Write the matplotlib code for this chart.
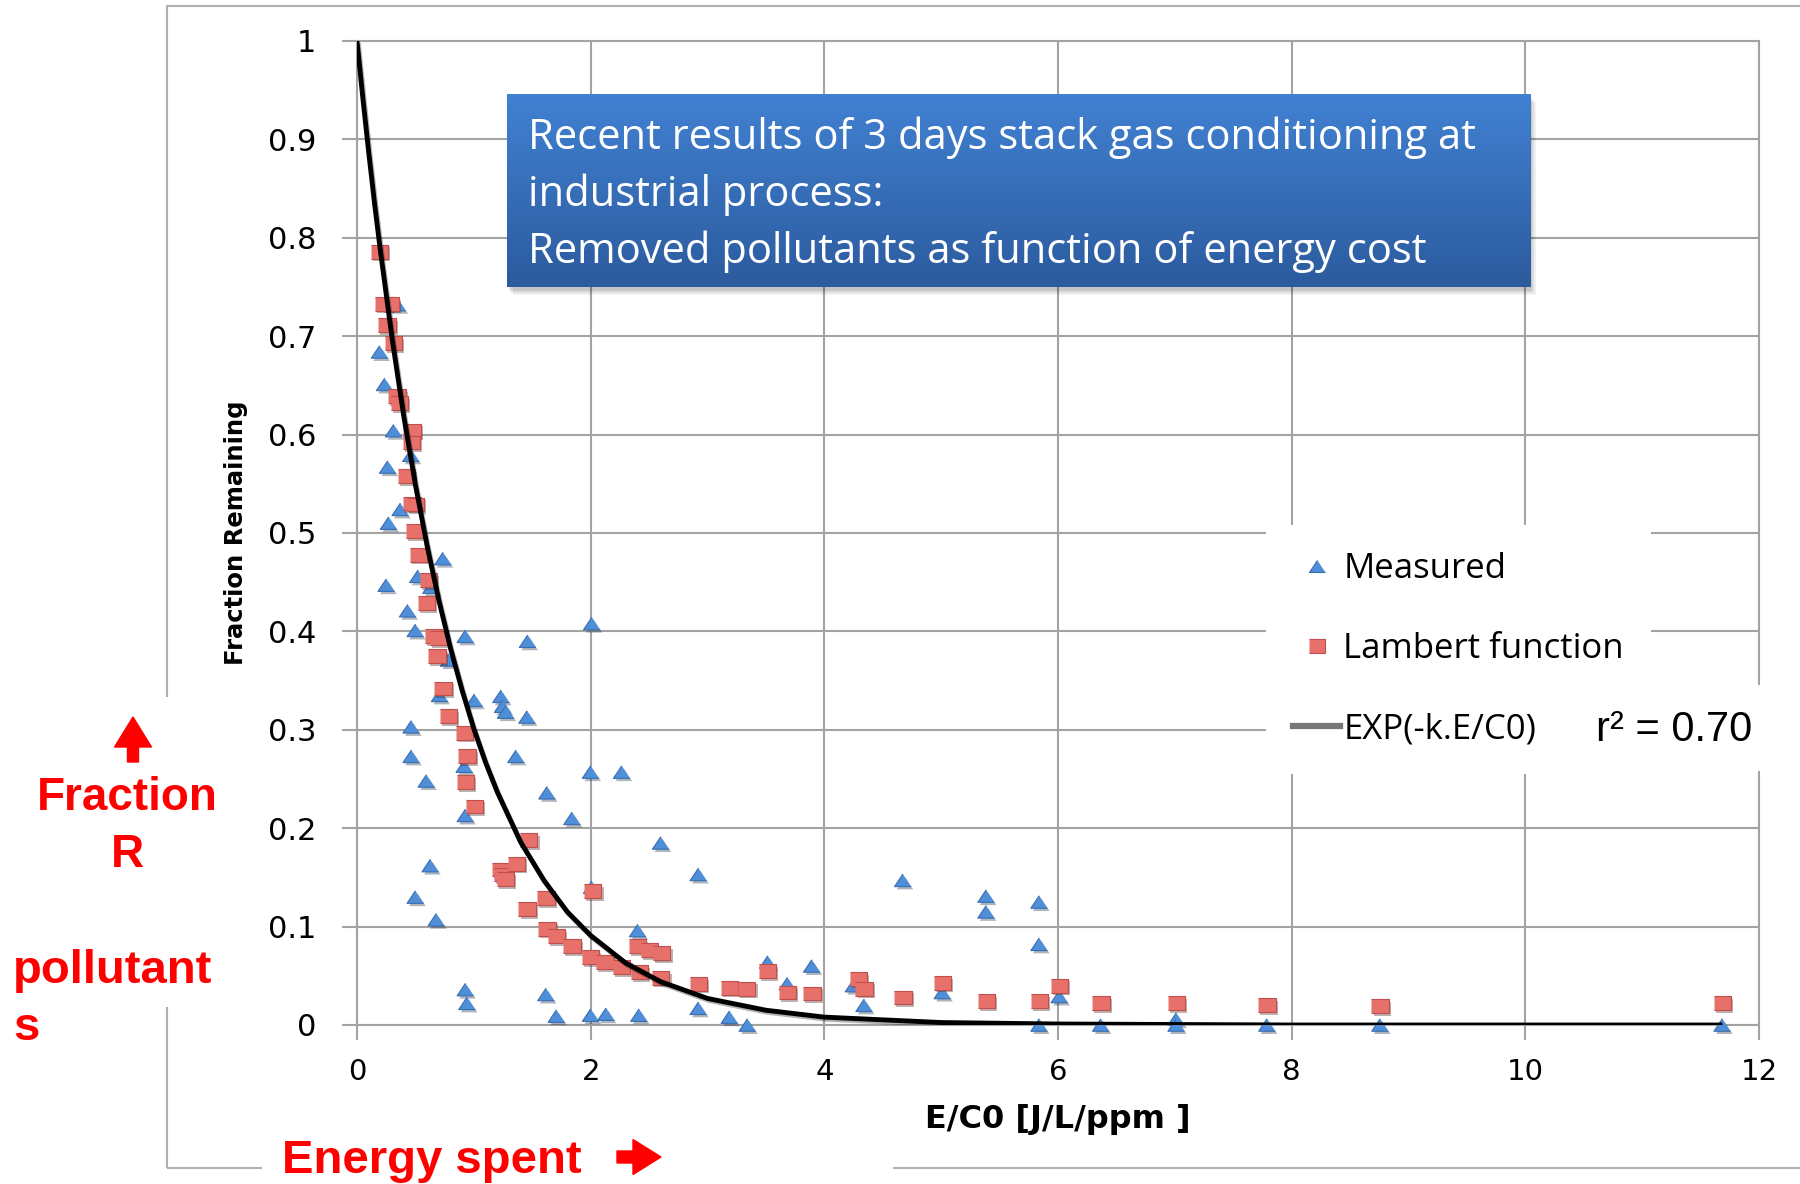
import numpy as np
import matplotlib
matplotlib.use("Agg")
import matplotlib.pyplot as plt
import matplotlib.patheffects as pe
from matplotlib.lines import Line2D
from matplotlib.patches import Rectangle, FancyArrow
from matplotlib.transforms import IdentityTransform

# measured points (E/C0, fraction remaining)
meas_E = [0.348, 0.194, 0.237, 0.314, 0.462, 0.263, 0.371, 0.271, 0.736, 0.522,
          0.251, 0.634, 0.434, 0.500, 0.928, 1.461, 2.010, 0.785, 0.708, 1.005,
          1.233, 1.247, 1.273, 1.456, 0.465, 0.465, 1.361, 0.919, 0.594, 1.627,
          2.000, 0.928, 1.841, 0.628, 0.500, 0.679, 0.928, 0.942, 1.618, 1.707,
          2.000, 2.266, 2.600, 2.922, 4.672, 2.403, 2.609, 3.516, 3.893, 3.684,
          4.250, 4.341, 2.132, 2.414, 2.922, 3.188, 3.342, 2.009, 5.385, 5.385,
          5.839, 5.839, 5.011, 6.013, 5.839, 6.367, 7.012, 7.012, 7.789, 8.757,
          11.686]
meas_R = [0.732, 0.684, 0.651, 0.604, 0.579, 0.567, 0.524, 0.510, 0.474, 0.456,
          0.447, 0.445, 0.421, 0.401, 0.395, 0.390, 0.408, 0.371, 0.335, 0.330,
          0.334, 0.324, 0.318, 0.313, 0.303, 0.273, 0.273, 0.263, 0.248, 0.236,
          0.257, 0.213, 0.210, 0.162, 0.130, 0.107, 0.036, 0.022, 0.031, 0.009,
          0.010, 0.257, 0.185, 0.153, 0.147, 0.096, 0.074, 0.064, 0.060, 0.042,
          0.040, 0.020, 0.011, 0.010, 0.017, 0.008, 0.000, 0.140, 0.131, 0.115,
          0.125, 0.082, 0.033, 0.029, 0.000, 0.000, 0.006, 0.000, 0.000, 0.000,
          0.000]

# lambert function points
lamb_E = [0.194, 0.230, 0.285, 0.257, 0.314, 0.342, 0.365, 0.471, 0.465, 0.422,
          0.471, 0.500, 0.491, 0.528, 0.614, 0.594, 0.656, 0.699, 0.685, 0.736,
          0.785, 0.919, 0.942, 0.928, 1.005, 1.470, 1.227, 1.250, 1.273, 1.364,
          1.618, 1.456, 1.627, 1.707, 1.841, 1.998, 2.018, 2.123, 2.266, 2.417,
          2.400, 2.503, 2.609, 2.600, 2.922, 3.188, 3.336, 3.513, 3.684, 3.893,
          4.292, 4.341, 4.672, 5.011, 5.390, 5.839, 6.013, 6.367, 7.012, 7.789,
          8.757, 11.686]
lamb_R = [0.786, 0.733, 0.733, 0.711, 0.693, 0.639, 0.632, 0.604, 0.592, 0.558,
          0.530, 0.529, 0.502, 0.478, 0.452, 0.429, 0.395, 0.393, 0.375, 0.342,
          0.314, 0.297, 0.273, 0.247, 0.222, 0.188, 0.158, 0.153, 0.148, 0.164,
          0.129, 0.118, 0.098, 0.090, 0.080, 0.069, 0.136, 0.064, 0.059, 0.054,
          0.080, 0.076, 0.073, 0.048, 0.042, 0.038, 0.037, 0.055, 0.033, 0.032,
          0.047, 0.037, 0.028, 0.043, 0.024, 0.024, 0.040, 0.022, 0.022, 0.020,
          0.019, 0.022]

# exp fit curve
fit_E = [0, 0.05, 0.1, 0.15, 0.2, 0.3, 0.4, 0.5, 0.6, 0.7, 0.8, 0.9, 1.0, 1.1,
         1.2, 1.4, 1.6, 1.8, 2.0, 2.3, 2.6, 3.0, 3.5, 4.0, 5.0, 6.0, 8.0, 11.686]
fit_R = [1.0, 0.942, 0.887, 0.835, 0.787, 0.698, 0.619, 0.549, 0.487, 0.432,
         0.383, 0.340, 0.301, 0.267, 0.237, 0.186, 0.147, 0.115, 0.091, 0.063,
         0.044, 0.027, 0.015, 0.008, 0.0025, 0.001, 0.0, 0.0]

x_ticks = [0, 2, 4, 6, 8, 10, 12]
y_ticks = [0, 0.1, 0.2, 0.3, 0.4, 0.5, 0.6, 0.7, 0.8, 0.9, 1.0]
y_labels = ["0", "0.1", "0.2", "0.3", "0.4", "0.5", "0.6", "0.7", "0.8", "0.9", "1"]

title_lines = ["Recent results of 3 days stack gas conditioning at",
               "industrial process:",
               "Removed pollutants as function of energy cost"]

W, H = 1800, 1184
def fx(x):
    return x / W
def fy(y):
    return 1 - y / H

fig = plt.figure(figsize=(18, 11.84), dpi=100)
fig.patch.set_facecolor("white")

ax = fig.add_axes([fx(357), fy(1025), (1759 - 357) / W, (1025 - 41) / H])
grid_c = "#a3a3a3"
ax.set_xlim(0, 12)
ax.set_ylim(0, 1)
ax.set_xticks(x_ticks)
ax.set_yticks(y_ticks)
ax.set_yticklabels(y_labels)
ax.grid(True, color=grid_c, lw=1.5)
ax.set_axisbelow(True)
for s in ax.spines.values():
    s.set_color(grid_c)
    s.set_linewidth(1.5)
ax.tick_params(axis="both", direction="out", length=10.5, width=1.5,
               color=grid_c, labelsize=21)
ax.tick_params(axis="y", pad=19, labelsize=22)
ax.tick_params(axis="x", pad=13)
ax.set_xlabel("E/C0 [J/L/ppm ]", fontsize=23, fontweight="bold", labelpad=13)
ax.set_ylabel("Fraction Remaining", fontsize=17.5, fontweight="bold", labelpad=14)

tri = [(0, 0.75), (-1, -0.75), (1, -0.75)]
sq = [(-1, -0.8), (1, -0.8), (1, 0.8), (-1, 0.8)]
shadow = [pe.SimplePatchShadow(offset=(1.5, -2), alpha=0.35), pe.Normal()]

ax.plot(meas_E, meas_R, ls="none", marker=tri, ms=12, mfc="#4f8fda",
        mec="#3a6db0", mew=0.8, clip_on=False, zorder=3, path_effects=shadow)
ax.plot(lamb_E, lamb_R, ls="none", marker=sq, ms=12.5, mfc="#e8706b",
        mec="#c0504d", mew=0.8, clip_on=False, zorder=4, path_effects=shadow)
ax.plot(fit_E, fit_R, color="black", lw=3.5, zorder=5, solid_capstyle="butt",
        path_effects=[pe.SimpleLineShadow(offset=(1, -1.5), alpha=0.3), pe.Normal()])

handles = [
    Line2D([], [], ls="none", marker=tri, ms=11.5, mfc="#4f8fda", mec="#3a6db0", mew=0.8),
    Line2D([], [], ls="none", marker=sq, ms=12, mfc="#e8706b", mec="#c0504d", mew=0.8),
    Line2D([], [], color="#777777", lw=4.5),
]
leg = ax.legend(handles, ["Measured", "Lambert function", "EXP(-k.E/C0)"],
                loc="upper left", bbox_to_anchor=(fx(1266), fy(525)),
                bbox_transform=fig.transFigure, borderaxespad=0,
                prop={"family": "Open Sans", "size": 25},
                frameon=True, fancybox=False, framealpha=1,
                facecolor="white", edgecolor="none",
                handlelength=1.35, handletextpad=0.1, labelspacing=1.33,
                borderpad=0.78)
leg.set_zorder(10)

# r^2 box
fig.patches.append(Rectangle((fx(1560), fy(771)), (1775 - 1560) / W, (771 - 685) / H,
                             transform=fig.transFigure, facecolor="white",
                             edgecolor="none", zorder=2))
fig.text(fx(1596), fy(741), "r² = 0.70", fontsize=30, family="Liberation Sans",
         color="black", va="baseline", ha="left", zorder=3)

# outer chart border
fig.patches.append(Rectangle((fx(167), fy(1168)), (1810 - 167) / W, (1168 - 6) / H,
                             transform=fig.transFigure, facecolor="none",
                             edgecolor="#b0b0b0", lw=1.5, zorder=0.2))

# title box with gradient and soft shadow
bx0, by0, bx1, by1 = 507, 94, 1530, 287
for off, a in [(8, 0.06), (6, 0.08), (4, 0.1)]:
    fig.patches.append(Rectangle((fx(bx0 + off - 2), fy(by1 + off)),
                                 (bx1 - bx0) / W, (by1 - by0) / H,
                                 transform=fig.transFigure, facecolor="black",
                                 edgecolor="none", alpha=a, zorder=0.5))
bax = fig.add_axes([fx(bx0), fy(by1), (bx1 - bx0) / W, (by1 - by0) / H])
bax.set_zorder(1)
grad = np.linspace(0, 1, 100).reshape(-1, 1)
cmap = matplotlib.colors.LinearSegmentedColormap.from_list("box", ["#4181d2", "#2c5b9e"])
bax.imshow(grad, aspect="auto", cmap=cmap, extent=(0, 1, 1, 0))
bax.set_axis_off()
for i, line in enumerate(title_lines):
    fig.text(fx(528), fy(149 + 57 * i), line, color="white", fontsize=30,
             family="Open Sans", va="baseline", ha="left", zorder=3)

# red annotations
red = "#ff0000"
fig.patches.append(Rectangle((0, fy(1007)), 230 / W, (1007 - 697) / H,
                             transform=fig.transFigure, facecolor="white",
                             edgecolor="none", zorder=2))
fig.patches.append(Rectangle((fx(262), 0), (893 - 262) / W, (1184 - 1130) / H,
                             transform=fig.transFigure, facecolor="white",
                             edgecolor="none", zorder=2))
# arrows in pixel coordinates (origin bottom-left)
fig.patches.append(FancyArrow(133, H - 762, 0, 45, width=11, head_width=37,
                              head_length=30, length_includes_head=True,
                              color=red, transform=IdentityTransform(), zorder=3))
fig.patches.append(FancyArrow(617, H - 1157, 44, 0, width=12, head_width=35,
                              head_length=28, length_includes_head=True,
                              color=red, transform=IdentityTransform(), zorder=3))
fig.text(fx(127), fy(810), "Fraction", color=red, fontsize=33, fontweight="bold",
         family="Liberation Sans", ha="center", va="baseline", zorder=3)
fig.text(fx(127), fy(867), "R", color=red, fontsize=33, fontweight="bold",
         family="Liberation Sans", ha="center", va="baseline", zorder=3)
fig.text(fx(13), fy(983), "pollutant", color=red, fontsize=34, fontweight="bold",
         family="Liberation Sans", ha="left", va="baseline", zorder=3)
fig.text(fx(13), fy(1040), "s", color=red, fontsize=34, fontweight="bold",
         family="Liberation Sans", ha="left", va="baseline", zorder=3)
fig.text(fx(282), fy(1173), "Energy spent", color=red, fontsize=34, fontweight="bold",
         family="Liberation Sans", ha="left", va="baseline", zorder=3)

fig.savefig("out.png", dpi=100, facecolor="white")
